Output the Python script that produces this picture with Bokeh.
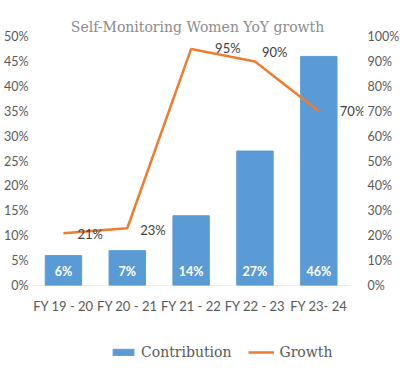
from bokeh.plotting import figure
from bokeh.layouts import column
from bokeh.models import (ColumnDataSource, Range1d, LinearAxis, SingleIntervalTicker,
                          FixedTicker, PrintfTickFormatter, Legend, LegendItem, LabelSet)
from bokeh.core.properties import value
from bokeh.embed import file_html
from bokeh.resources import INLINE

# ---- data ----
years = ["FY 19 - 20", "FY 20 - 21", "FY 21 - 22", "FY 22 - 23", "FY 23- 24"]
contribution = [6, 7, 14, 27, 46]
growth = [21, 23, 95, 90, 70]
contribution_labels = ["6%", "7%", "14%", "27%", "46%"]
growth_labels = ["21%", "23%", "95%", "90%", "70%"]
left_axis_max = 50
left_axis_step = 5
right_axis_max = 100
right_axis_step = 10

# label placement (screen px, style only; dy positive = up)
growth_label_dx = [14, 13, 24, 7, 21]
growth_label_dy = [-1, -2, 1, 9, 0]

pos = list(range(len(years)))
src = ColumnDataSource(dict(
    x=pos, contribution=contribution, growth=growth,
    clabel=contribution_labels, glabel=growth_labels,
    dx=growth_label_dx, dy=growth_label_dy,
))

AXIS_COLOR = "#595959"
SANS = "Lato"
SERIF = "DejaVu Serif"
BLUE = "#5b9bd5"
ORANGE = "#ed7d31"

n = len(years)
p = figure(
    x_range=Range1d(-0.5, n - 0.5 + 0.2),
    y_range=Range1d(0, left_axis_max),
    frame_width=332, frame_height=249,
    output_backend="svg", toolbar_location=None,
    title="Self-Monitoring Women YoY growth",
)
p.extra_y_ranges = {"growth": Range1d(0, right_axis_max)}

p.min_border_left = 28
p.min_border_right = 34
p.min_border_top = 36
p.min_border_bottom = 35
p.outline_line_color = None
p.xgrid.visible = False
p.ygrid.visible = False
p.background_fill_color = "white"
p.border_fill_color = "white"

p.title.align = "center"
p.title.text_font = SERIF
p.title.text_font_size = "14px"
p.title.text_font_style = "normal"
p.title.text_color = "#8c8c8c"
p.title.standoff = 4

# category axis baseline (spans the categories only)
p.segment(x0=[-0.5], x1=[n - 0.5], y0=[0], y1=[0], line_color="#d9d9d9", line_width=1)

# bars
bars = p.vbar(x="x", top="contribution", width=0.57, source=src,
              fill_color=BLUE, line_color=BLUE)
# line
line = p.line(x="x", y="growth", source=src, y_range_name="growth",
              line_color=ORANGE, line_width=2.5)

# bar labels
p.text(x="x", y=0, text="clabel", source=src,
       text_color="white", text_font=value(SANS), text_font_style="bold",
       text_font_size="12.5px", text_align="center", text_baseline="middle",
       y_offset=-14)
# growth labels
glabels = LabelSet(x="x", y="growth", text="glabel", source=src,
                   y_range_name="growth", x_offset="dx", y_offset="dy",
                   text_color="#404040", text_font=value(SANS),
                   text_font_size="13px", text_align="left",
                   text_baseline="middle")
p.add_layout(glabels)

def style_axis(ax, size):
    ax.axis_line_color = None
    ax.major_tick_line_color = None
    ax.minor_tick_line_color = None
    ax.major_tick_out = 0
    ax.major_tick_in = 0
    ax.minor_tick_out = 0
    ax.minor_tick_in = 0
    ax.major_label_text_font = SANS
    ax.major_label_text_font_size = size
    ax.major_label_text_color = AXIS_COLOR

# axes
xa = p.xaxis[0]
xa.ticker = FixedTicker(ticks=pos)
xa.major_label_overrides = {i: y for i, y in zip(pos, years)}
style_axis(xa, "13px")
xa.major_label_standoff = 12

ya = p.yaxis[0]
ya.ticker = SingleIntervalTicker(interval=left_axis_step)
ya.formatter = PrintfTickFormatter(format="%d%%")
style_axis(ya, "12.5px")
ya.major_label_standoff = 3

ra = LinearAxis(y_range_name="growth",
                ticker=SingleIntervalTicker(interval=right_axis_step),
                formatter=PrintfTickFormatter(format="%d%%"))
style_axis(ra, "12.5px")
ra.major_label_standoff = 4
p.add_layout(ra, "right")

# ---- legend strip ----
lg = figure(width=400, height=50, output_backend="svg", toolbar_location=None,
            x_range=Range1d(0, 1), y_range=Range1d(0, 1))
lg.min_border_left = 0
lg.min_border_right = 0
lg.min_border_top = 0
lg.min_border_bottom = 0
lg.axis.visible = False
lg.grid.visible = False
lg.outline_line_color = None
lg.background_fill_color = "white"
lg.border_fill_color = "white"
# off-range swatch renderers (only used to draw the legend keys)
swatch = ColumnDataSource(dict(x=[-1.0], y=[-1.0], top=[-1.0]))
lb = lg.vbar(x="x", top="top", width=0.1, source=swatch, fill_color=BLUE, line_color=BLUE)
ll = lg.line(x="x", y="y", source=swatch, line_color=ORANGE, line_width=2.5)

legend = Legend(items=[
    LegendItem(label="Contribution", renderers=[lb]),
    LegendItem(label="Growth", renderers=[ll]),
], orientation="horizontal", location=(79, 10))
legend.border_line_color = None
legend.background_fill_alpha = 0
legend.label_text_font = SERIF
legend.label_text_font_size = "14px"
legend.label_text_color = AXIS_COLOR
legend.glyph_width = 26
legend.glyph_height = 8
legend.label_standoff = 5
legend.spacing = 17
legend.margin = 0
legend.padding = 4
lg.add_layout(legend)

layout = column(p, lg, spacing=0)
open("out.html", "w").write(file_html(layout, INLINE))
